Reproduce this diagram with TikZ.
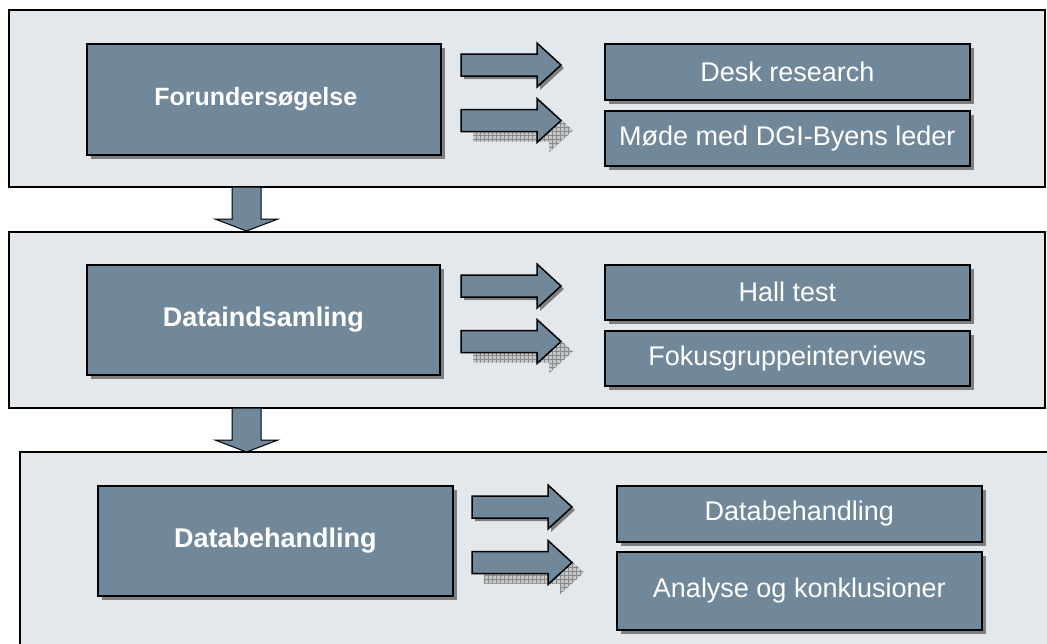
\documentclass[tikz,border=0pt]{standalone}
\usepackage{fontspec}
\setmainfont{Liberation Sans}
\usetikzlibrary{shadows,patterns}
\definecolor{panelfill}{HTML}{E3E8EC}
\definecolor{boxfill}{HTML}{71889B}
\definecolor{shadowgray}{HTML}{7F7F7F}
\definecolor{hatchbg}{HTML}{C4C6C8}
\definecolor{hatchline}{HTML}{8A8A8A}
\pgfdeclarepatternformonly{mygrid}{\pgfqpoint{-1pt}{-1pt}}{\pgfqpoint{4pt}{4pt}}{\pgfqpoint{4pt}{4pt}}{%
  \pgfsetlinewidth{0.8pt}%
  \pgfpathmoveto{\pgfqpoint{0pt}{0pt}}\pgfpathlineto{\pgfqpoint{4pt}{0pt}}%
  \pgfpathmoveto{\pgfqpoint{0pt}{0pt}}\pgfpathlineto{\pgfqpoint{0pt}{4pt}}%
  \pgfusepath{stroke}}
\tikzset{
  panel/.style={draw=black, line width=1.4pt, fill=panelfill},
  mainbox/.style={draw=black, line width=1.6pt, fill=boxfill, text=white, inner sep=0pt, anchor=north west,
    font=\fontsize{27}{32}\selectfont\bfseries,
    general shadow={fill=shadowgray, shadow xshift=4pt, shadow yshift=-4pt}},
  subbox/.style={draw=black, line width=1.6pt, fill=boxfill, text=white, inner sep=0pt, anchor=north west,
    font=\fontsize{27}{32}\selectfont,
    general shadow={fill=shadowgray, shadow xshift=4pt, shadow yshift=-4pt}},
  arrowbody/.style={draw=black, line width=1.5pt, fill=boxfill, line join=miter},
  solidshadow/.style={general shadow={fill=shadowgray, shadow xshift=3pt, shadow yshift=-3pt}},
  hatchshadow/.style={general shadow={fill=hatchbg, postaction={pattern=mygrid, pattern color=hatchline}, shadow xshift=12pt, shadow yshift=-10pt}},
  rarrowsolid/.pic={\draw[arrowbody, solidshadow] (0,-11) -- (76,-11) -- (76,-22) -- (100,0) -- (76,22) -- (76,11) -- (0,11) -- cycle;},
  rarrowhatch/.pic={\draw[arrowbody, hatchshadow] (0,-11) -- (76,-11) -- (76,-22) -- (100,0) -- (76,22) -- (76,11) -- (0,11) -- cycle;},
  darrow/.pic={\draw[draw=black, line width=1pt, fill=boxfill] (-14.5,0) -- (14.5,0) -- (14.5,32) -- (31.5,32) -- (0,44) -- (-31.5,32) -- (-14.5,32) -- cycle;}
}
\begin{document}
\begin{tikzpicture}[x=1pt,y=-1pt]
\useasboundingbox (0,0) rectangle (1047,643);
\clip (0,0) rectangle (1047,643);
\fill[white] (0,0) rectangle (1047,643);
% panels
\draw[panel] (9,10) rectangle (1045,187);
\draw[panel] (9,232) rectangle (1045,408);
\draw[panel] (20,452) rectangle (1070,670);
% main boxes
\node[mainbox, minimum width=354pt, minimum height=111pt] (m1) at (86,43) {\hspace*{-16pt}\fontsize{25}{30}\selectfont Forundersøgelse};
\node[mainbox, minimum width=353pt, minimum height=110pt] (m2) at (86,264) {Dataindsamling};
\node[mainbox, minimum width=355pt, minimum height=110pt] (m3) at (97,485) {Databehandling};
% sub boxes
\node[subbox, minimum width=365pt, minimum height=56pt] (s1) at (604,43) {Desk research};
\node[subbox, minimum width=365pt, minimum height=55pt] (s2) at (604,110) {Møde med DGI-Byens leder};
\node[subbox, minimum width=365pt, minimum height=55pt] (s3) at (604,264) {Hall test};
\node[subbox, minimum width=365pt, minimum height=55pt] (s4) at (604,330) {Fokusgruppeinterviews};
\node[subbox, minimum width=365pt, minimum height=56pt] (s5) at (616,485) {Databehandling};
\node[subbox, minimum width=365pt, minimum height=78pt] (s6) at (616,551) {Analyse og konklusioner};
% right arrows
\pic at (461,65) {rarrowsolid};
\pic at (461,120.5) {rarrowhatch};
\pic at (461,286) {rarrowsolid};
\pic at (461,341.5) {rarrowhatch};
\pic at (472,507) {rarrowsolid};
\pic at (472,562.5) {rarrowhatch};
% down arrows
\pic at (246.5,187) {darrow};
\pic at (246.5,408) {darrow};
\end{tikzpicture}
\end{document}
